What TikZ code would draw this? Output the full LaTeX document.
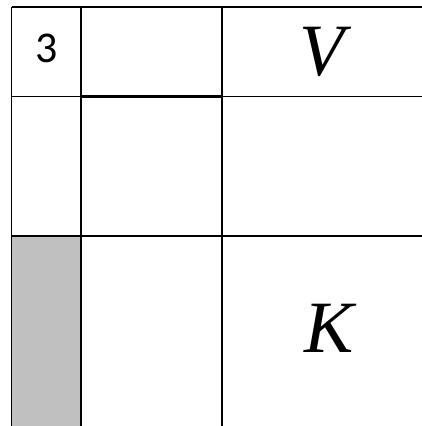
\documentclass[tikz,border=0pt]{standalone}
\usepackage{fontspec}
\newfontfamily\digitfont{Carlito}
\newfontfamily\letterfont{Liberation Serif}
\usepackage{tikz}
\usetikzlibrary{positioning,calc}
\definecolor{cellgray}{RGB}{192,192,192}

\begin{document}
\begin{tikzpicture}[x=0.02cm,y=-0.02cm,
  thin line/.style={line width=0.85pt},
  thick line/.style={line width=1.7pt},
  big/.style={font=\fontsize{42}{42}\selectfont\letterfont\itshape},
  num/.style={font=\fontsize{25}{25}\selectfont\digitfont}]
\useasboundingbox (0,0) rectangle (422,426);
\fill[white] (0,0) rectangle (422,426);
\fill[cellgray] (11.5,236) rectangle (81,426);
% grid lines
\foreach \y in {7,96.5,236}{
  \draw[thin line] (11.5,\y) -- (422,\y);
}
\foreach \x in {11.5,81,222}{
  \draw[thin line] (\x,7) -- (\x,426);
}
\draw[thick line] (81,96.5) rectangle (222,236);
\node[num] (three) at (47,48) {3};
\node[big] (vee) at (322,52) {V};
\node[big] (kay) at (329,328) {K};
\end{tikzpicture}
\end{document}
